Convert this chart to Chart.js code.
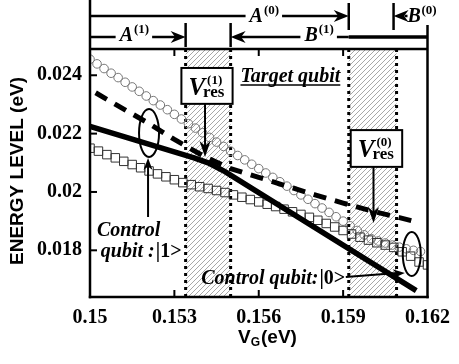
<!DOCTYPE html>
<html>
<head>
<meta charset="utf-8">
<script src="https://cdn.jsdelivr.net/npm/chart.js@4.4.1/dist/chart.umd.min.js"></script>
<style>
  html, body { margin: 0; padding: 0; background: #fff; }
</style>
</head>
<body>
<canvas id="chart" width="459" height="364"></canvas>
<script>
// axis ticks
const xTicks = [0.15, 0.153, 0.156, 0.159, 0.162];
const yTicks = [0.018, 0.02, 0.022, 0.024];

// open circles (upper level)
const circleV = [0.15, 0.15025, 0.1505, 0.15075, 0.151, 0.15125, 0.1515, 0.15175, 0.152, 0.15225,
  0.1525, 0.15275, 0.153, 0.15325, 0.1535, 0.15375, 0.154, 0.15425, 0.1545, 0.15475,
  0.155, 0.15525, 0.1555, 0.15575, 0.156, 0.15625, 0.1565, 0.15675, 0.157, 0.15725,
  0.1575, 0.15775, 0.158, 0.15825, 0.1585, 0.15875, 0.159, 0.15925, 0.1595, 0.15975,
  0.16, 0.16025, 0.1605, 0.16075, 0.161, 0.16125, 0.1615, 0.16175];
const circleE = [0.02455, 0.02439, 0.02423, 0.02407, 0.02392, 0.02376, 0.0236, 0.02345, 0.02329, 0.02313,
  0.02298, 0.02282, 0.02266, 0.0225, 0.02234, 0.02219, 0.02203, 0.02187, 0.02171, 0.02156,
  0.0214, 0.02125, 0.0211, 0.02095, 0.0208, 0.02065, 0.0205, 0.02035, 0.0202, 0.02005,
  0.0199, 0.01975, 0.0196, 0.01945, 0.0193, 0.01915, 0.019, 0.01884, 0.01868, 0.01853,
  0.0184, 0.01832, 0.01825, 0.01818, 0.01811, 0.01805, 0.018, 0.01796];

// open squares (lower level)
const squareV = [0.15, 0.1503, 0.1506, 0.1509, 0.1512, 0.1515, 0.1518, 0.1521, 0.1524, 0.1527,
  0.153, 0.1533, 0.1536, 0.1539, 0.1542, 0.1545, 0.1548, 0.1551, 0.1554, 0.1557,
  0.156, 0.1563, 0.1566, 0.1569, 0.1572, 0.1575, 0.1578, 0.1581, 0.1584, 0.1587,
  0.159, 0.1593, 0.1596, 0.1599, 0.1602, 0.1605, 0.1608, 0.1611, 0.1614, 0.1617, 0.162];
const squareE = [0.0215, 0.0214, 0.02128, 0.02117, 0.02105, 0.02094, 0.02083, 0.02072, 0.02062, 0.02052,
  0.02042, 0.02032, 0.02025, 0.02018, 0.02012, 0.02005, 0.01998, 0.0199, 0.01982, 0.01974,
  0.01966, 0.01958, 0.0195, 0.01941, 0.01932, 0.01923, 0.01913, 0.01903, 0.01892, 0.0188,
  0.01868, 0.01856, 0.01845, 0.01835, 0.01826, 0.01818, 0.0181, 0.01795, 0.0178, 0.0176, 0.0175];

// dashed thick line
const dashV = [0.1502, 0.151, 0.152, 0.153, 0.154, 0.155, 0.156, 0.157, 0.158, 0.159, 0.16, 0.161, 0.1615];
const dashE = [0.0234, 0.02295, 0.0224, 0.0218, 0.02125, 0.0208, 0.0205, 0.0202, 0.0199, 0.01962, 0.01935, 0.01912, 0.019];

// solid thick line
const solidV = [0.15, 0.1537, 0.1542, 0.1548, 0.1616];
const solidE = [0.02225, 0.02117, 0.021, 0.0207, 0.01662];

// hatched resonance windows
const resWindows = [[0.1534, 0.155], [0.1592, 0.1609]];

const SERIF = '"Liberation Serif", "DejaVu Serif", serif';
const SANS = '"Liberation Sans", Arial, sans-serif';

function pts(xs, ys) {
  return xs.map((x, i) => ({ x: x, y: ys[i] }));
}

function fmt(v) {
  return String(parseFloat(v.toFixed(3)));
}

function arrowHead(ctx, x, y, ang, len, w) {
  ctx.save();
  ctx.translate(x, y);
  ctx.rotate(ang);
  ctx.beginPath();
  ctx.moveTo(0, 0);
  ctx.lineTo(-len, -w / 2);
  ctx.lineTo(-len * 0.7, 0);
  ctx.lineTo(-len, w / 2);
  ctx.closePath();
  ctx.fill();
  ctx.restore();
}

function line(ctx, x1, y1, x2, y2, w) {
  ctx.lineWidth = w;
  ctx.beginPath();
  ctx.moveTo(x1, y1);
  ctx.lineTo(x2, y2);
  ctx.stroke();
}

function label(ctx, letter, sup, cx, y) {
  // italic capital with bold superscript, centred on cx, white backing
  ctx.font = 'italic bold 20px ' + SERIF;
  const w1 = ctx.measureText(letter).width;
  ctx.font = 'bold 13px ' + SERIF;
  const w2 = ctx.measureText(sup).width;
  const x = cx - (w1 + w2) / 2;
  ctx.fillStyle = '#fff';
  ctx.fillRect(x - 4, y - 15, w1 + w2 + 8, 20);
  ctx.fillStyle = '#000';
  ctx.font = 'italic bold 20px ' + SERIF;
  ctx.fillText(letter, x, y);
  ctx.font = 'bold 13px ' + SERIF;
  ctx.fillText(sup, x + w1 + 1, y - 8);
}

function vres(ctx, x, y, sup) {
  ctx.fillStyle = '#000';
  ctx.font = 'italic bold 25px ' + SERIF;
  ctx.fillText('V', x, y);
  const w = ctx.measureText('V').width;
  ctx.font = 'bold 17px ' + SERIF;
  ctx.fillText('res', x + w - 2, y + 2);
  ctx.font = 'bold 13px ' + SERIF;
  ctx.fillText(sup, x + w + 2, y - 11);
}

function hatchPattern(ctx) {
  const c = document.createElement('canvas');
  c.width = 5;
  c.height = 5;
  const g = c.getContext('2d');
  g.strokeStyle = '#a8a8a8';
  g.lineWidth = 1;
  g.beginPath();
  g.moveTo(0, 5); g.lineTo(5, 0);
  g.moveTo(-2.5, 2.5); g.lineTo(2.5, -2.5);
  g.moveTo(2.5, 7.5); g.lineTo(7.5, 2.5);
  g.stroke();
  return ctx.createPattern(c, 'repeat');
}

const decor = {
  id: 'decor',
  beforeDatasetsDraw(chart) {
    const ctx = chart.ctx;
    const a = chart.chartArea;
    const xs = chart.scales.x;
    ctx.save();
    ctx.fillStyle = hatchPattern(ctx);
    resWindows.forEach(([x0, x1]) => {
      const p0 = xs.getPixelForValue(x0);
      const p1 = xs.getPixelForValue(x1);
      ctx.fillRect(p0, a.top, p1 - p0, a.bottom - a.top);
      ctx.strokeStyle = '#000';
      ctx.setLineDash([3, 4]);
      line(ctx, p0, a.top, p0, a.bottom, 3);
      line(ctx, p1, a.top, p1, a.bottom, 3);
      ctx.setLineDash([]);
    });
    ctx.restore();
  },
  afterDraw(chart) {
    const ctx = chart.ctx;
    const a = chart.chartArea;
    const xs = chart.scales.x;
    const ys = chart.scales.y;
    const X = (v) => xs.getPixelForValue(v);
    const Y = (v) => ys.getPixelForValue(v);
    ctx.save();
    ctx.strokeStyle = '#000';
    ctx.fillStyle = '#000';
    ctx.lineCap = 'butt';

    // frame
    line(ctx, a.left, 0, a.left, a.bottom + 1.2, 2.5);
    line(ctx, a.right, 25, a.right, a.bottom + 1.2, 2.5);
    line(ctx, a.left, a.top, a.right, a.top, 2.5);
    line(ctx, a.left - 1.2, a.bottom, a.right + 1.2, a.bottom, 2.5);

    // inner ticks
    xTicks.slice(1, -1).forEach((v) => {
      line(ctx, X(v), a.bottom, X(v), a.bottom - 7, 2);
      line(ctx, X(v), a.top, X(v), a.top + 7, 2);
    });
    yTicks.forEach((v) => line(ctx, a.left, Y(v), a.left + 7, Y(v), 2));

    // A / B brackets above the plot
    const w1a = X(resWindows[0][0]), w1b = X(resWindows[0][1]);
    const w2a = X(resWindows[1][0]), w2b = X(resWindows[1][1]);
    const r1 = a.top - 33, r2 = a.top - 12;
    line(ctx, a.left, r1, w2a - 6, r1, 2.5);
    arrowHead(ctx, w2a, r1, 0, 15, 12);
    line(ctx, w2a, r1 - 13, w2a, r1 + 14, 2.5);
    line(ctx, w2b - 3, r1 - 13, w2b - 3, r1 + 14, 2.5);
    line(ctx, w2b + 8, r1, a.right - 20, r1, 2.5);
    arrowHead(ctx, w2b - 3, r1, Math.PI, 15, 12);
    label(ctx, 'A', '(0)', X(0.15618), r1 + 6);
    ctx.font = 'italic bold 20px ' + SERIF;
    ctx.fillText('B', a.right - 20, r1 + 6);
    ctx.font = 'bold 13px ' + SERIF;
    ctx.fillText('(0)', a.right - 6, r1 - 2);

    line(ctx, a.left, r2, w1a - 6, r2, 2.5);
    arrowHead(ctx, w1a, r2, 0, 15, 12);
    line(ctx, w1a, r2 - 14, w1a, r2 + 10, 2.5);
    line(ctx, w1b, r2 - 14, w1b, r2 + 10, 2.5);
    line(ctx, w1b + 6, r2, w2a, r2, 2.5);
    line(ctx, w2a, r2, a.right, r2, 3.5);
    arrowHead(ctx, w1b, r2, Math.PI, 15, 12);
    label(ctx, 'A', '(1)', X(0.15156), r2 + 4);
    label(ctx, 'B', '(1)', X(0.15813), r2 + 4);

    // V_res boxes with arrows
    const boxes = [
      { x0: 0.15325, x1: 0.15507, y0: 0.02425, y1: 0.02302, ax: 0.15409, tip: 0.0212, sup: '(1)' },
      { x0: 0.15927, x1: 0.1611, y0: 0.02212, y1: 0.02086, ax: 0.16008, tip: 0.01894, sup: '(0)' }
    ];
    boxes.forEach((b) => {
      const bx = X(b.x0), by = Y(b.y0), bw = X(b.x1) - bx, bh = Y(b.y1) - by;
      ctx.fillStyle = '#fff';
      ctx.fillRect(bx, by, bw, bh);
      ctx.lineWidth = 2;
      ctx.strokeRect(bx, by, bw, bh);
      ctx.fillStyle = '#000';
      vres(ctx, bx + 7, by + 27, b.sup);
      line(ctx, X(b.ax), by + bh, X(b.ax), Y(b.tip) - 8, 2);
      arrowHead(ctx, X(b.ax), Y(b.tip), Math.PI / 2, 16, 11);
    });

    // Target qubit
    ctx.font = 'italic bold 20px ' + SERIF;
    const tx = X(0.15535), ty = Y(0.02377);
    ctx.fillText('Target qubit', tx, ty);
    const tw = ctx.measureText('Target qubit').width;
    line(ctx, tx, ty + 3, tx + tw, ty + 3, 1.5);

    // control qubit |1>
    ctx.lineWidth = 2;
    ctx.beginPath();
    ctx.ellipse(X(0.152099), Y(0.022021), 10, 24, 0, 0, Math.PI * 2);
    ctx.stroke();
    line(ctx, X(0.152064), Y(0.019142), X(0.152064), Y(0.021164) + 8, 2);
    arrowHead(ctx, X(0.152064), Y(0.021164), -Math.PI / 2, 12, 9);
    ctx.font = 'italic bold 20px ' + SERIF;
    ctx.fillText('Control', X(0.150245), Y(0.018491));
    ctx.fillText('qubit :', X(0.150385), Y(0.017771));
    let qw = ctx.measureText('qubit :').width;
    ctx.font = 'bold 20px ' + SERIF;
    ctx.fillText('|1>', X(0.150385) + qw + 1, Y(0.017771));

    // control qubit |0>
    ctx.beginPath();
    ctx.ellipse(X(0.16144), Y(0.017874), 9, 22, 0, 0, Math.PI * 2);
    ctx.stroke();
    const ax0 = X(0.159096), ay0 = Y(0.017085), ax1 = X(0.161195), ay1 = Y(0.017222);
    line(ctx, ax0, ay0, ax1 - 8, ay1, 2);
    arrowHead(ctx, ax1, ay1, Math.atan2(ay1 - ay0, ax1 - ax0), 12, 9);
    ctx.font = 'italic bold 20px ' + SERIF;
    const cx0 = X(0.153953), cy0 = Y(0.016845);
    ctx.fillText('Control qubit:', cx0, cy0);
    qw = ctx.measureText('Control qubit:').width;
    ctx.font = 'bold 20px ' + SERIF;
    ctx.fillText('|0>', cx0 + qw + 1, cy0);

    // axis titles
    ctx.font = 'bold 19px ' + SANS;
    ctx.textAlign = 'center';
    ctx.textBaseline = 'middle';
    ctx.save();
    ctx.translate(18, (a.top + a.bottom) / 2 - 2);
    ctx.rotate(-Math.PI / 2);
    ctx.fillText('ENERGY LEVEL (eV)', 0, 0);
    ctx.restore();
    ctx.textAlign = 'left';
    ctx.textBaseline = 'alphabetic';
    const vx = 238, vy = 343;
    ctx.font = 'bold 19px ' + SANS;
    ctx.fillText('V', vx, vy);
    let vw = ctx.measureText('V').width;
    ctx.font = 'bold 12px ' + SANS;
    ctx.fillText('G', vx + vw, vy + 3);
    vw += ctx.measureText('G').width;
    ctx.font = 'bold 19px ' + SANS;
    ctx.fillText('(eV)', vx + vw + 1, vy);

    ctx.restore();
  }
};

new Chart(document.getElementById('chart'), {
  type: 'scatter',
  data: {
    datasets: [
      {
        label: 'solid',
        data: pts(solidV, solidE),
        showLine: true,
        borderColor: '#000',
        borderWidth: 5.5,
        pointRadius: 0,
        order: 0
      },
      {
        label: 'dashed',
        data: pts(dashV, dashE),
        showLine: true,
        borderColor: '#000',
        borderWidth: 5,
        borderDash: [13, 9],
        pointRadius: 0,
        order: 1
      },
      {
        label: 'squares',
        data: pts(squareV, squareE),
        pointStyle: 'rect',
        pointRadius: 6,
        borderColor: '#333',
        borderWidth: 1,
        backgroundColor: 'rgba(255,255,255,0)',
        order: 2
      },
      {
        label: 'circles',
        data: pts(circleV, circleE),
        pointStyle: 'circle',
        pointRadius: 4.3,
        borderColor: '#777',
        borderWidth: 1,
        backgroundColor: 'rgba(255,255,255,0)',
        order: 3
      }
    ]
  },
  options: {
    responsive: false,
    animation: false,
    layout: { padding: { top: 49, right: 26, left: 0, bottom: 0 } },
    plugins: {
      legend: { display: false },
      tooltip: { enabled: false }
    },
    scales: {
      x: {
        type: 'linear',
        min: 0.15,
        max: 0.162,
        afterBuildTicks: (s) => { s.ticks = xTicks.map((v) => ({ value: v })); },
        afterFit: (s) => { s.height = 67; },
        grid: { display: false, drawTicks: false },
        border: { display: false },
        ticks: {
          padding: 9,
          color: '#000',
          font: { family: SERIF, size: 20, weight: 'bold' },
          callback: (v) => fmt(v),
          maxRotation: 0
        }
      },
      y: {
        type: 'linear',
        min: 0.0164,
        max: 0.0249,
        afterBuildTicks: (s) => { s.ticks = yTicks.map((v) => ({ value: v })); },
        afterFit: (s) => { s.width = 90; },
        grid: { display: false, drawTicks: false },
        border: { display: false },
        ticks: {
          padding: 8,
          color: '#000',
          font: { family: SERIF, size: 20, weight: 'bold' },
          callback: (v) => fmt(v)
        }
      }
    }
  },
  plugins: [decor]
});
</script>
</body>
</html>
